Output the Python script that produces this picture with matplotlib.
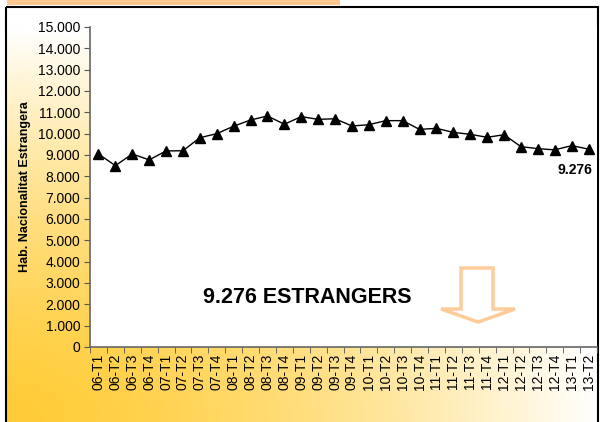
import numpy as np
import matplotlib
matplotlib.use('Agg')
import matplotlib.pyplot as plt
import matplotlib.ticker as ticker
from matplotlib.patches import Rectangle, Polygon

plt.rcParams['font.family'] = ['Liberation Sans', 'DejaVu Sans']

# trimestres
periodes = ['06-T1', '06-T2', '06-T3', '06-T4', '07-T1', '07-T2', '07-T3', '07-T4',
            '08-T1', '08-T2', '08-T3', '08-T4', '09-T1', '09-T2', '09-T3', '09-T4',
            '10-T1', '10-T2', '10-T3', '10-T4', '11-T1', '11-T2', '11-T3', '11-T4',
            '12-T1', '12-T2', '12-T3', '12-T4', '13-T1', '13-T2']
estrangers = [9050, 8500, 9050, 8770, 9190, 9200, 9810, 10000,
              10350, 10640, 10830, 10440, 10800, 10670, 10700, 10360,
              10420, 10610, 10610, 10200, 10250, 10060, 9970, 9830,
              9950, 9390, 9300, 9240, 9440, 9276]
y_ticks = list(range(0, 15001, 1000))

W, H = 601, 422
fig = plt.figure(figsize=(W / 100, H / 100), dpi=100)

# fons amb degradat
bg = fig.add_axes([0, 0, 1, 1], zorder=-10)
bg.set_xlim(0, W)
bg.set_ylim(H, 0)
bg.axis('off')
gx, gy = np.meshgrid(np.linspace(0, 1, 300), np.linspace(1, 0, 220))
t = np.clip(np.sqrt(gx ** 2 + (gy / 0.95) ** 2), 0, 1) ** 1.5
gold = np.array([255, 204, 55]) / 255
white = np.array([255, 255, 255]) / 255
img = gold[None, None, :] * (1 - t[..., None]) + white[None, None, :] * t[..., None]
bg.imshow(img, extent=[5.5, 598, 422, 7], aspect='auto', zorder=0)
bg.add_patch(Rectangle((5.5, 7), 592.5, 420, fill=False, edgecolor='black', lw=1.5, zorder=2))
bg.add_patch(Rectangle((7, 0), 333, 4.5, facecolor='#fdc78f', edgecolor='none', zorder=2))

ax = fig.add_axes([90 / W, 1 - 347 / H, 507 / W, 320 / H])
ax.set_facecolor('white')
x = np.arange(len(periodes))
ax.plot(x, estrangers, color='black', lw=1.0, marker='^', markersize=7.5,
        markerfacecolor='black', markeredgecolor='black')

ax.set_xlim(-0.5, len(periodes) - 0.5)
ax.set_ylim(0, 15000)
ax.set_yticks(y_ticks)
ax.set_yticklabels([f'{v:,}'.replace(',', '.') for v in y_ticks], fontsize=10)
ax.set_xticks(x)
ax.set_xticklabels(periodes, rotation=90, fontsize=10)
ax.xaxis.set_minor_locator(ticker.FixedLocator(np.arange(-0.5, len(periodes), 1)))
ax.tick_params(axis='x', which='major', length=0, pad=5)
ax.tick_params(axis='x', which='minor', length=4, color='#555555')
ax.tick_params(axis='y', length=4, color='#555555', pad=3)

for s in ['top', 'right']:
    ax.spines[s].set_visible(False)
for s in ['left', 'bottom']:
    ax.spines[s].set_color('#666666')
    ax.spines[s].set_linewidth(1.2)

ax.set_ylabel('Hab. Nacionalitat Estrangera', fontsize=9, fontweight='bold', labelpad=5)

ax.annotate(f'{estrangers[-1]:,}'.replace(',', '.'), xy=(x[-1], estrangers[-1]),
            xytext=(-10, -15), textcoords='offset points', ha='center', va='center',
            fontsize=10, fontweight='bold')
ax.text(0.428, 0.156, f'{estrangers[-1]:,}'.replace(',', '.') + ' ESTRANGERS',
        transform=ax.transAxes, ha='center', va='center', fontsize=15.5, fontweight='bold')

# fletxa
arrow = [(461, 268), (493, 268), (493, 309), (515, 309), (478, 322),
         (441, 309), (461, 309)]
px = [(px_ / W, 1 - py_ / H) for px_, py_ in arrow]
fig.patches.append(Polygon(px, closed=True, fill=False, edgecolor='#ffcc99', lw=2.5,
                           transform=fig.transFigure, figure=fig, zorder=5))

fig.savefig('out.png', dpi=100)
